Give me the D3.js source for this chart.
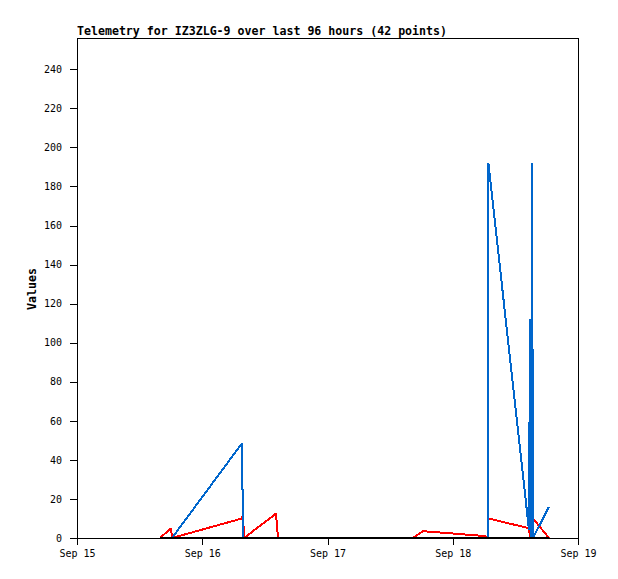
<!DOCTYPE html>
<html>
<head>
<meta charset="utf-8">
<script src="https://cdn.jsdelivr.net/npm/d3@7/dist/d3.min.js"></script>
<style>
  html, body { margin: 0; padding: 0; background: #fff; }
  svg { display: block; }
  text { font-family: "DejaVu Sans Mono", monospace; fill: #000; }
</style>
</head>
<body>
<svg id="chart" width="618" height="579"></svg>
<script>
// ---- data ----
const title = "Telemetry for IZ3ZLG-9 over last 96 hours (42 points)";
const yLabel = "Values";
const times = [
  "Sep 15 15:54", "Sep 15 18:01", "Sep 15 18:12",
  "Sep 16 07:37", "Sep 16 07:49", "Sep 16 08:00",
  "Sep 16 14:08", "Sep 16 14:31",
  "Sep 17 16:23", "Sep 17 18:18",
  "Sep 18 06:11", "Sep 18 06:45", "Sep 18 06:50",
  "Sep 18 14:37", "Sep 18 14:48", "Sep 18 14:59",
  "Sep 18 15:11", "Sep 18 15:23", "Sep 18 18:26"
];
const redValues   = [0, 5, 0, 10, 12, 0, 12.5, 0, 0, 3.5, 1, 0, 10, 5, 0, 0, 0, 10, 0];
const blueValues  = [0, 0, 0, 48.5, 0, 0, 0, 0, 0, 0, 0, 0, 192, 4, 112, 0, 192, 0, 16];
const blackValues = [0, 0, 0, 0, 0, 0, 0, 0, 0, 0, 0, 0, 0, 0, 0, 0, 0, 0, 0];
const xDomain = ["Sep 15 00:00", "Sep 19 00:00"];
const xTickLabels = ["Sep 15", "Sep 16", "Sep 17", "Sep 18", "Sep 19"];
const yMax = 256;
const yTicks = [0, 20, 40, 60, 80, 100, 120, 140, 160, 180, 200, 220, 240];

// ---- drawing ----
const parse = d3.timeParse("%b %d %H:%M");
const svg = d3.select("#chart");
const m = { left: 77, top: 38, right: 40, bottom: 41 };
const W = 618 - m.left - m.right;
const H = 579 - m.top - m.bottom;

const x = d3.scaleTime().domain(xDomain.map(parse)).range([0, W]);
const y = d3.scaleLinear().domain([0, yMax]).range([H, 0]);

const g = svg.append("g").attr("transform", `translate(${m.left},${m.top})`);

// frame top/right
g.append("line").attr("x1", 0).attr("x2", W).attr("y1", 0.5).attr("y2", 0.5)
  .attr("stroke", "#000").attr("shape-rendering", "crispEdges");
g.append("line").attr("x1", W + 0.5).attr("x2", W + 0.5).attr("y1", 0).attr("y2", H)
  .attr("stroke", "#000").attr("shape-rendering", "crispEdges");

// axes
const xTickDates = xTickLabels.map(s => parse(s + " 00:00"));
const xAxis = d3.axisBottom(x).tickValues(xTickDates)
  .tickFormat((d, i) => xTickLabels[i]).tickSize(7).tickSizeOuter(0).tickPadding(5);
const yAxis = d3.axisLeft(y).tickValues(yTicks).tickSize(7).tickSizeOuter(0).tickPadding(8);

const gx = g.append("g").attr("transform", `translate(0,${H})`).call(xAxis);
const gy = g.append("g").call(yAxis);
[gx, gy].forEach(a => {
  a.selectAll("path, line").attr("stroke", "#000").attr("shape-rendering", "crispEdges");
  a.selectAll("text").attr("font-size", "10px").style("font-family", '"DejaVu Sans Mono", monospace');
});

// series
const pts = times.map(parse);
const line = vals => d3.line().x((d, i) => x(pts[i])).y(d => y(d))(vals);
const series = [
  { vals: redValues, color: "#ff0000" },
  { vals: blueValues, color: "#0066cc" },
  { vals: blackValues, color: "#000000" }
];
series.forEach(s => {
  g.append("path").attr("d", line(s.vals)).attr("fill", "none")
    .attr("stroke", s.color).attr("stroke-width", 2)
    .attr("stroke-linejoin", "bevel").attr("shape-rendering", "crispEdges");
});

// title and y label
svg.append("text").attr("x", 77).attr("y", 35)
  .attr("font-size", "11.6px").attr("font-weight", "bold")
  .attr("textLength", 370).attr("lengthAdjust", "spacing").text(title);
svg.append("text").attr("transform", "translate(36,289) rotate(-90)")
  .attr("text-anchor", "middle")
  .attr("font-size", "11.6px").attr("font-weight", "bold").text(yLabel);
</script>
</body>
</html>
